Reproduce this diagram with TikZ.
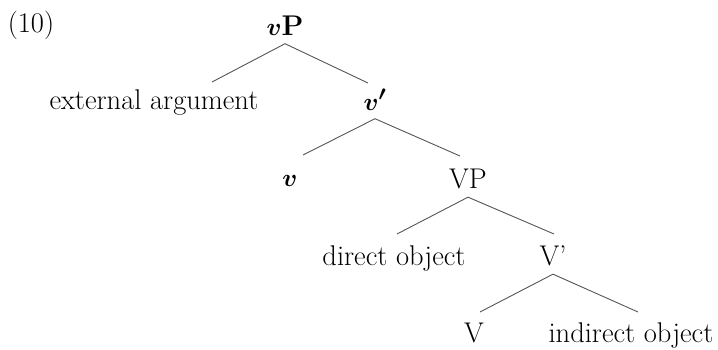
\documentclass[tikz,border=0pt]{standalone}
\usepackage{amsmath,amssymb}
\usepackage{xcolor}
\usepackage{tikz}
\definecolor{branch_gray}{RGB}{85,85,85}

\begin{document}
\begin{tikzpicture}[x=1pt, y=-1pt,
    label/.style={anchor=base, inner sep=8.5pt, font=\fontsize{28.5}{34}\selectfont},
    branch/.style={draw=branch_gray, line width=0.9pt}]
        \useasboundingbox (0,0) rectangle (718,349);
        % Example number
        \node[label] (num) at (31,32) {(10)};
        % vP level
        \node[label] (vP) at (285,35) {$\boldsymbol{v}$\textbf{P}};
        \node[label] (ext) at (154,109) {external argument};
        \node[label] (vbar) at (375,110) {$\boldsymbol{v'}$};
        \coordinate (vP-l) at (212,82);
        \coordinate (vP-r) at (368,83);
        \draw[branch] (vP-l) -- (vP.south) -- (vP-r);
        % v' level
        \node[label] (v) at (290,186) {$\boldsymbol{v}$};
        \node[label] (VP) at (468,188) {VP};
        \coordinate (vbar-l) at (303,155);
        \coordinate (vbar-r) at (460,156);
        \draw[branch] (vbar-l) -- (vbar.south) -- (vbar-r);
        % VP level
        \node[label] (do) at (394,265) {direct object};
        \node[label] (Vbar) at (553,265) {V’};
        \coordinate (VP-l) at (397,234);
        \coordinate (VP-r) at (554,234);
        \draw[branch] (VP-l) -- (VP.south) -- (VP-r);
        % V' level
        \node[label] (V) at (474,342) {V};
        \node[label] (io) at (631,342) {indirect object};
        \coordinate (Vbar-l) at (480,312);
        \coordinate (Vbar-r) at (638,312);
        \draw[branch] (Vbar-l) -- (Vbar.south) -- (Vbar-r);
      \end{tikzpicture}
\end{document}
